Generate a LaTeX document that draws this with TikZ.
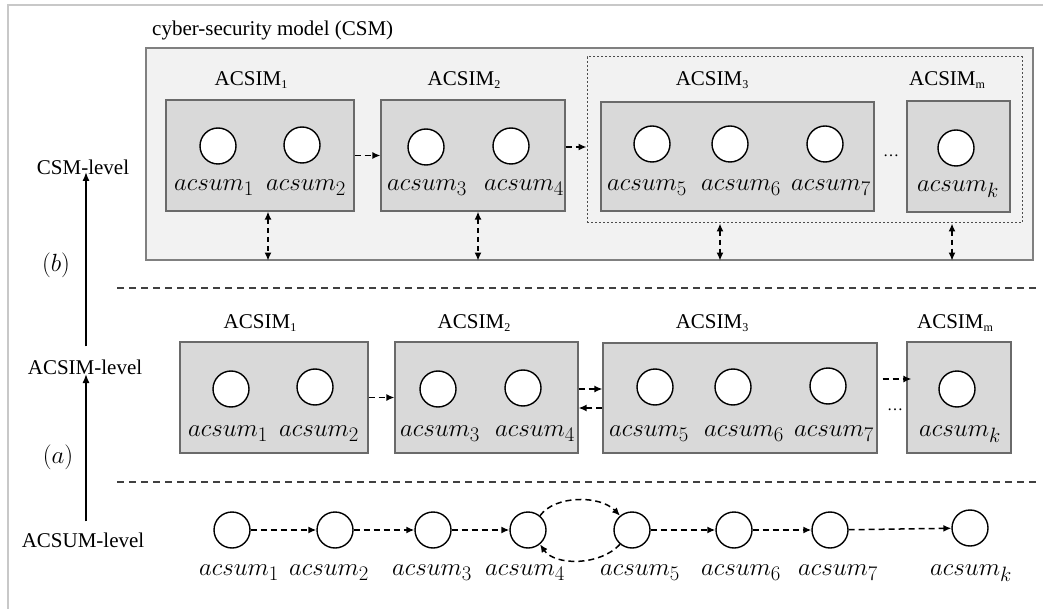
\documentclass[tikz,border=0pt]{standalone}
\usepackage{fontspec}
\setmainfont{Liberation Serif}
\usetikzlibrary{arrows.meta,calc}
\definecolor{csmfill}{HTML}{F2F2F2}
\definecolor{boxfill}{HTML}{D9D9D9}
\definecolor{boxline}{HTML}{6A6A6A}
\definecolor{frameline}{HTML}{C8C8C8}
\newcommand{\acsimsub}[1]{\raisebox{-3.5pt}{\fontsize{12}{13}\selectfont #1}}
\begin{document}
\begin{tikzpicture}[x=1pt,y=-1pt,
  txt/.style={font=\fontsize{21}{24}\selectfont, inner sep=0pt},
  mtxt/.style={font=\fontsize{24.88}{28}\selectfont, inner sep=0pt},
  imbox/.style={draw=boxline, fill=boxfill, line width=1.2pt, minimum height=111pt, inner sep=0pt},
  um/.style={circle, draw=black, fill=white, line width=1.4pt, minimum size=36pt, inner sep=0pt},
  dasharrow/.style={line width=1.5pt, dash pattern=on 6pt off 4pt, -{Latex[length=8pt,width=7pt]}},
  ddarrow/.style={line width=1.5pt, dash pattern=on 5pt off 4pt, {Latex[length=8pt,width=7pt]}-{Latex[length=8pt,width=7pt]}},
  uparrow/.style={line width=1.4pt, -{Latex[length=9pt,width=7pt]}},
  sepline/.style={draw=black!75, line width=1.4pt, dash pattern=on 7pt off 5pt},
]
\useasboundingbox (0,0) rectangle (1043,609);
% frame
\draw[frameline, line width=1.5pt] (8,609) -- (8,5) -- (1043,5);

% ---------- CSM level ----------
\node[draw=black!50, fill=csmfill, line width=1.2pt, minimum width=887pt, minimum height=212pt, inner sep=0pt] (csm) at (589.5,154) {};
\node[txt, anchor=west] (title) at (152,30) {cyber-security model (CSM)};
\node[draw=black!70, line width=1pt, dash pattern=on 2pt off 2pt, minimum width=435pt, minimum height=166pt, inner sep=0pt] (dot) at (804.5,140) {};

\node[imbox, minimum width=188pt] (t1) at (260,155.5) {};
\node[imbox, minimum width=184pt] (t2) at (473,155.5) {};
\node[imbox, minimum width=273pt, minimum height=109pt] (t3) at (737.5,156.5) {};
\node[imbox, minimum width=103pt] (tm) at (958.5,156.5) {};

\node[txt] (lt1) at (251,80) {ACSIM\acsimsub{1}};
\node[txt] (lt2) at (464,80) {ACSIM\acsimsub{2}};
\node[txt] (lt3) at (712,80) {ACSIM\acsimsub{3}};
\node[txt] (ltm) at (947,80) {ACSIM\acsimsub{m}};

\node[um] (tc1) at (218,146) {};
\node[um] (tc2) at (302,145) {};
\node[um] (tc3) at (426,147) {};
\node[um] (tc4) at (511,146) {};
\node[um] (tc5) at (652,144) {};
\node[um] (tc6) at (730,144) {};
\node[um] (tc7) at (825,144) {};
\node[um] (tck) at (956,148) {};

\node[mtxt] (tl1) at (214,188) {$acsum_1$};
\node[mtxt] (tl2) at (306,188) {$acsum_2$};
\node[mtxt] (tl3) at (427,188) {$acsum_3$};
\node[mtxt] (tl4) at (524,188) {$acsum_4$};
\node[mtxt] (tl5) at (647,188) {$acsum_5$};
\node[mtxt] (tl6) at (741,188) {$acsum_6$};
\node[mtxt] (tl7) at (831,188) {$acsum_7$};
\node[mtxt] (tlk) at (958,189) {$acsum_k$};

\node[font=\fontsize{16}{18}\selectfont, inner sep=0pt] (tdots) at (891,156) {\dots};

\draw[dasharrow] (t1.east) -- (t2.west);
\draw[dasharrow] ([yshift=8.5pt]t2.east) -- ([yshift=8.5pt]t2.east -| dot.west);

\draw[ddarrow] ([xshift=8pt]t1.south) -- ([xshift=8pt]t1.south |- csm.south);
\draw[ddarrow] ([xshift=5pt]t2.south) -- ([xshift=5pt]t2.south |- csm.south);
\draw[ddarrow] ([xshift=-84.5pt]dot.south) -- ([xshift=-84.5pt]dot.south |- csm.south);
\draw[ddarrow] ([xshift=147.5pt]dot.south) -- ([xshift=147.5pt]dot.south |- csm.south);

% separators
\coordinate (s1a) at (117,288); \coordinate (s1b) at (1040,288);
\coordinate (s2a) at (117,482); \coordinate (s2b) at (1040,482);
\draw[sepline] (s1a) -- (s1b);
\draw[sepline] (s2a) -- (s2b);

% ---------- ACSIM level ----------
\node[imbox, minimum width=188pt] (m1) at (274,397.5) {};
\node[imbox, minimum width=183pt] (m2) at (486.5,397.5) {};
\node[imbox, minimum width=274pt, minimum height=110pt] (m3) at (740,398) {};
\node[imbox, minimum width=104pt] (mm) at (959,397.5) {};

\node[txt] (lm1) at (260,323) {ACSIM\acsimsub{1}};
\node[txt] (lm2) at (474,323) {ACSIM\acsimsub{2}};
\node[txt] (lm3) at (712,323) {ACSIM\acsimsub{3}};
\node[txt] (lmm) at (955,323) {ACSIM\acsimsub{m}};

\node[um] (mc1) at (231,389) {};
\node[um] (mc2) at (315,387) {};
\node[um] (mc3) at (438,389) {};
\node[um] (mc4) at (523,388) {};
\node[um] (mc5) at (655,387) {};
\node[um] (mc6) at (733,387) {};
\node[um] (mc7) at (828,386) {};
\node[um] (mck) at (957,389) {};

\node[mtxt] (ml1) at (228,434) {$acsum_1$};
\node[mtxt] (ml2) at (319,434) {$acsum_2$};
\node[mtxt] (ml3) at (440,434) {$acsum_3$};
\node[mtxt] (ml4) at (535,434) {$acsum_4$};
\node[mtxt] (ml5) at (649,434) {$acsum_5$};
\node[mtxt] (ml6) at (744,434) {$acsum_6$};
\node[mtxt] (ml7) at (834,434) {$acsum_7$};
\node[mtxt] (mlk) at (960,434) {$acsum_k$};

\node[font=\fontsize{16}{18}\selectfont, inner sep=0pt] (mdots) at (895,410) {\dots};

\draw[dasharrow] (m1.east) -- (m2.west);
\draw[dasharrow] ([yshift=8.5pt]m2.east) -- ([yshift=8.5pt]m2.east -| m3.west);
\draw[dasharrow] ([yshift=-10pt]m3.west) -- ([yshift=-10pt]m3.west -| m2.east);
\draw[dasharrow] ([xshift=5pt,yshift=19pt]m3.east) -- ([xshift=5pt,yshift=19pt]m3.east -| mm.west);

% ---------- ACSUM level ----------
\node[um] (u1) at (232,530) {};
\node[um] (u2) at (335,530) {};
\node[um] (u3) at (433,530) {};
\node[um] (u4) at (528,530) {};
\node[um] (u5) at (632,530) {};
\node[um] (u6) at (734,530) {};
\node[um] (u7) at (830,530) {};
\node[um] (uk) at (970,528) {};

\node[mtxt] (ul1) at (239,573) {$acsum_1$};
\node[mtxt] (ul2) at (329,573) {$acsum_2$};
\node[mtxt] (ul3) at (432,573) {$acsum_3$};
\node[mtxt] (ul4) at (525,573) {$acsum_4$};
\node[mtxt] (ul5) at (640,573) {$acsum_5$};
\node[mtxt] (ul6) at (741,573) {$acsum_6$};
\node[mtxt] (ul7) at (838,573) {$acsum_7$};
\node[mtxt] (ulk) at (971,573) {$acsum_k$};

\draw[dasharrow] (u1) -- (u2);
\draw[dasharrow] (u2) -- (u3);
\draw[dasharrow] (u3) -- (u4);
\draw[dasharrow] (u5) -- (u6);
\draw[dasharrow] (u6) -- (u7);
\draw[dasharrow] (u7) -- (uk);
\draw[dasharrow] (u4.50) .. controls (555,495) and (600,495) .. (u5.130);
\draw[dasharrow] (u5.-130) .. controls (600,566) and (555,566) .. (u4.-50);

% ---------- left labels ----------
\node[txt] (lvC) at (83,167) {CSM-level};
\node[txt] (lvA) at (85,367) {ACSIM-level};
\node[txt] (lvU) at (83,540) {ACSUM-level};
\node[mtxt] (lb) at (56,265) {$(b)$};
\node[mtxt] (la) at (58,457) {$(a)$};
\draw[uparrow] ([xshift=1pt,yshift=13pt]lvA.north) -- ([xshift=1pt,yshift=13pt]lvA.north |- 0,185);
\draw[uparrow] ([xshift=3pt,yshift=11pt]lvU.north) -- ([xshift=3pt,yshift=11pt]lvU.north |- 0,385);
\end{tikzpicture}
\end{document}
